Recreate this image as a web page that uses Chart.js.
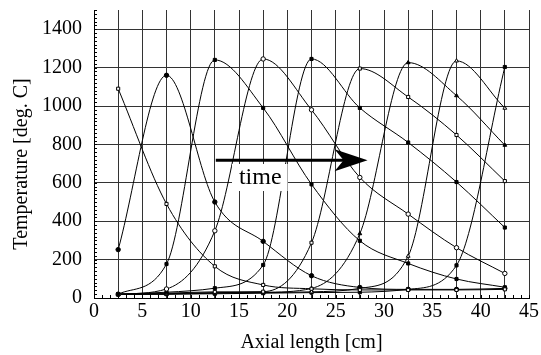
<!DOCTYPE html>
<html>
<head>
<meta charset="utf-8">
<script src="https://cdn.jsdelivr.net/npm/chart.js@4/dist/chart.umd.min.js"></script>
<style>
  html, body { margin: 0; padding: 0; background: #fff; }
  #wrap { width: 541px; height: 355px; }
</style>
</head>
<body>
<div id="wrap"><canvas id="chart" width="541" height="355"></canvas></div>
<script>
// ---- Data: axial positions of the thermocouples [cm] ----
const axialPos = [2.5, 7.5, 12.5, 17.5, 22.5, 27.5, 32.5, 37.5, 42.5];

// ---- Temperature profiles [deg. C], one per time step ----
const profile1 = [1090, 490, 165, 68, 48, 42, 42, 42, 45];
const profile2 = [252, 1160, 500, 295, 116, 55, 45, 45, 50];
const profile3 = [20, 177, 1240, 990, 592, 298, 180, 99, 56];
const profile4 = [20, 47, 350, 1245, 980, 628, 437, 262, 128];
const profile5 = [20, 30, 51, 172, 1245, 990, 810, 604, 367];
const profile6 = [20, 25, 32, 33, 288, 1195, 1047, 849, 609];
const profile7 = [20, 22, 28, 30, 50, 335, 1226, 1054, 796];
const profile8 = [18, 20, 25, 28, 32, 50, 218, 1235, 989];
const profile9 = [18, 20, 22, 25, 28, 30, 45, 170, 1203];

// ---- Tick labels ----
const xTickLabels = [0, 5, 10, 15, 20, 25, 30, 35, 40, 45];
const yTickLabels = [0, 200, 400, 600, 800, 1000, 1200, 1400];

// ---- Estilo de marcadores por perfil ----
const markers = [
  { style: 'rect',     fill: '#fff' },
  { style: 'circle',   fill: '#000' },
  { style: 'rect',     fill: '#000' },
  { style: 'circle',   fill: '#fff' },
  { style: 'rect',     fill: '#000' },
  { style: 'rect',     fill: '#fff' },
  { style: 'triangle', fill: '#000' },
  { style: 'triangle', fill: '#fff' },
  { style: 'rect',     fill: '#000' },
];

const profiles = [profile1, profile2, profile3, profile4, profile5,
                  profile6, profile7, profile8, profile9];

const FONT = "'Liberation Serif', 'Times New Roman', 'DejaVu Serif', serif";

const datasets = profiles.map((p, i) => ({
  label: 't' + (i + 1),
  data: p.map((v, j) => ({ x: axialPos[j], y: v })),
  borderColor: '#000',
  borderWidth: 1,
  pointStyle: markers[i].style,
  pointBackgroundColor: markers[i].fill,
  pointBorderColor: '#000',
  pointBorderWidth: 1,
  pointRadius: 2.2,
  cubicInterpolationMode: 'monotone',
  fill: false,
}));

// ---- Flecha "time" + marcas menores ----
const extras = {
  id: 'extras',
  afterDatasetsDraw(chart) {
    const { ctx, chartArea: a, scales: { x, y } } = chart;
    ctx.save();

    // marcas menores en los ejes
    ctx.strokeStyle = '#000';
    ctx.lineWidth = 1;
    ctx.beginPath();
    for (let v = 0; v <= 45.01; v += 5 / 6) {
      const px = Math.round(x.getPixelForValue(v)) + 0.5;
      ctx.moveTo(px, a.bottom);
      ctx.lineTo(px, a.bottom - 3);
    }
    for (let v = 0; v <= 1500; v += 20) {
      const py = Math.round(y.getPixelForValue(v)) + 0.5;
      ctx.moveTo(a.left, py);
      ctx.lineTo(a.left + 3, py);
    }
    ctx.stroke();

    // caja blanca con el texto
    ctx.font = '24px ' + FONT;
    const tx = x.getPixelForValue(17.2);
    const ty = y.getPixelForValue(595);
    const w = ctx.measureText('time').width;
    ctx.fillStyle = '#fff';
    ctx.fillRect(232, 164, tx + w / 2 + 6 - 232, 27);
    ctx.fillStyle = '#000';
    ctx.textAlign = 'center';
    ctx.textBaseline = 'alphabetic';
    ctx.fillText('time', tx, ty);

    // flecha
    const x0 = x.getPixelForValue(12.6);
    const x1 = x.getPixelForValue(28.3);
    const ay = y.getPixelForValue(718);
    ctx.lineWidth = 3;
    ctx.beginPath();
    ctx.moveTo(x0, ay);
    ctx.lineTo(x1 - 20, ay);
    ctx.stroke();
    ctx.beginPath();
    ctx.moveTo(x1, ay);
    ctx.lineTo(x1 - 33, ay - 11);
    ctx.lineTo(x1 - 24, ay);
    ctx.lineTo(x1 - 33, ay + 11);
    ctx.closePath();
    ctx.fill();

    ctx.restore();
  }
};

new Chart(document.getElementById('chart'), {
  type: 'line',
  data: { datasets },
  plugins: [extras],
  options: {
    responsive: false,
    animation: false,
    devicePixelRatio: 1,
    layout: { padding: { left: 0, right: 10, top: 10, bottom: 0 } },
    plugins: {
      legend: { display: false },
      tooltip: { enabled: false },
    },
    scales: {
      x: {
        type: 'linear',
        min: 0,
        max: 45,
        afterFit: s => { s.height = 57; },
        grid: { color: '#333', lineWidth: 1, drawTicks: false },
        border: { color: '#000', width: 1 },
        ticks: {
          stepSize: 2.5,
          autoSkip: false,
          maxRotation: 0,
          padding: 2,
          color: '#000',
          font: { family: FONT, size: 20 },
          callback: v => xTickLabels.includes(v) ? String(v) : '',
        },
        title: {
          display: true,
          text: 'Axial length [cm]',
          color: '#000',
          font: { family: FONT, size: 20 },
          padding: { top: 0, bottom: 0 },
        },
      },
      y: {
        min: 0,
        max: 1500,
        afterFit: s => { s.width = 94; s.paddingTop = 0; s.paddingBottom = 0; },
        grid: { color: '#333', lineWidth: 1, drawTicks: false },
        border: { color: '#000', width: 1 },
        ticks: {
          stepSize: 100,
          padding: 12,
          color: '#000',
          font: { family: FONT, size: 20 },
          callback: v => yTickLabels.includes(v) ? String(v) : '',
        },
        title: {
          display: true,
          // espacios finales para bajar el título como en el original
          text: 'Temperature [deg. C]\u00a0\u00a0\u00a0\u00a0',
          color: '#000',
          font: { family: FONT, size: 20 },
          padding: { top: 10, bottom: 0 },
        },
      },
    },
  },
});
</script>
</body>
</html>
